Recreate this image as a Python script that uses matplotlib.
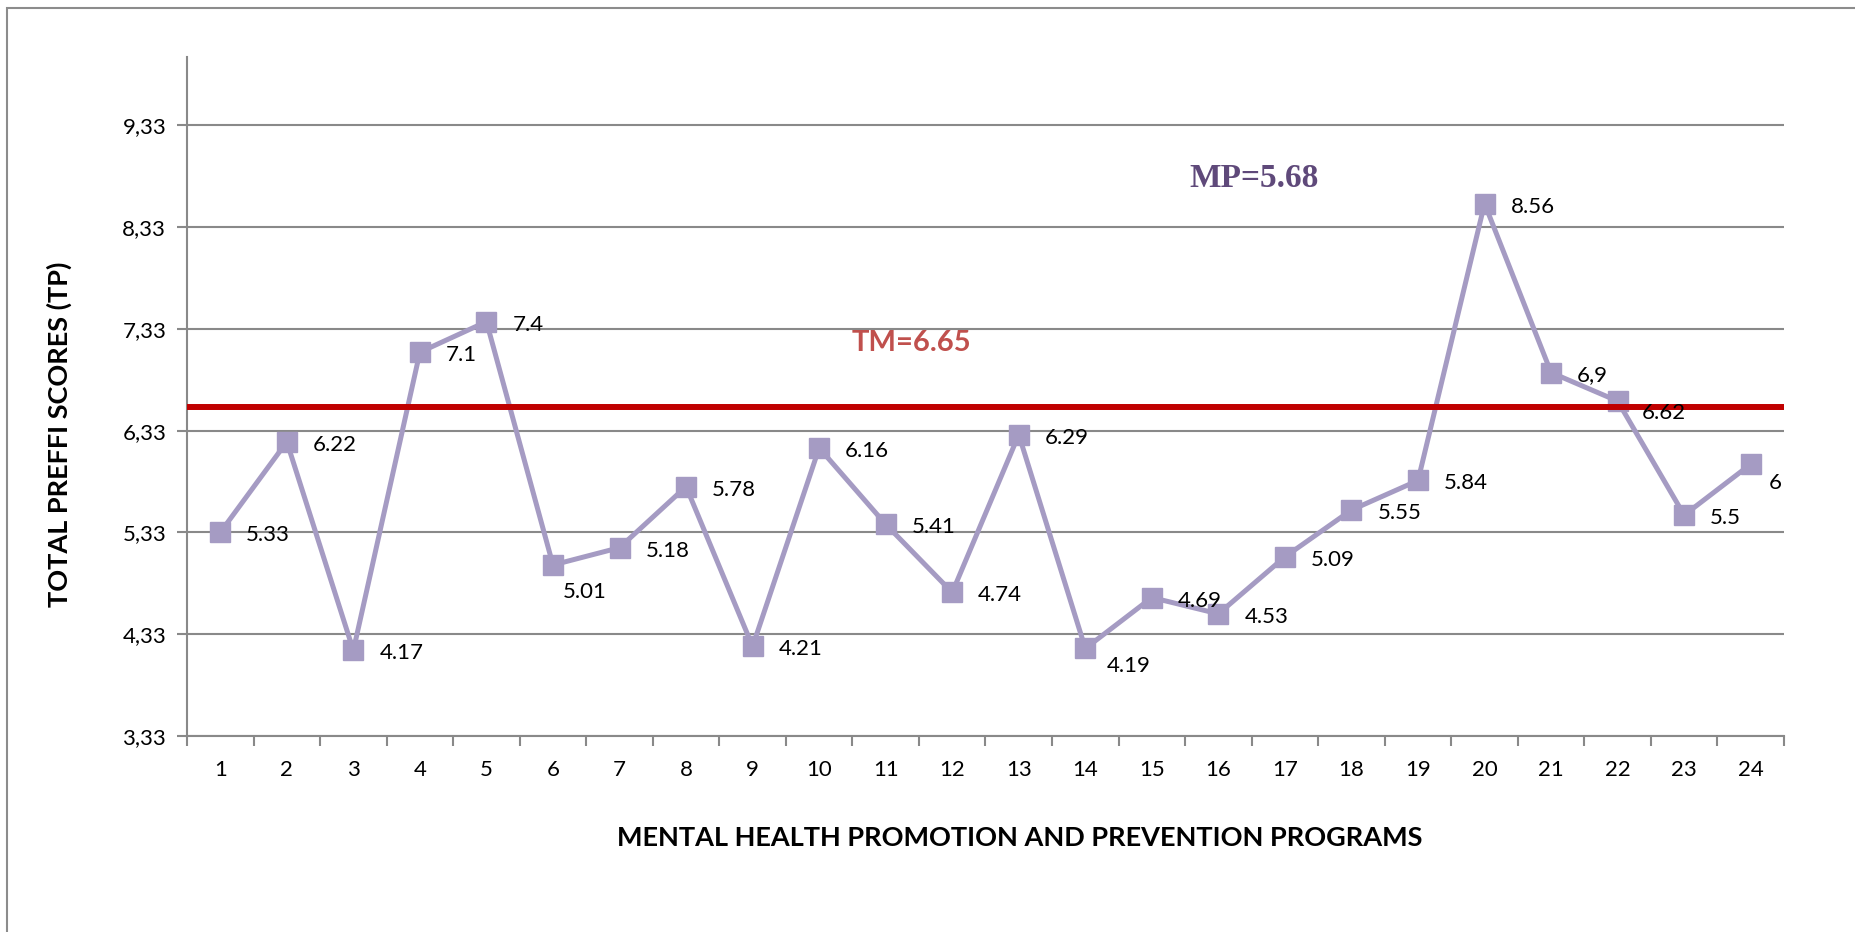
import numpy as np
import matplotlib
matplotlib.use('Agg')
import matplotlib.pyplot as plt
from matplotlib.patches import Rectangle

plt.rcParams['font.family'] = ['Lato', 'DejaVu Sans']

# === Données ===
programmes = list(range(1, 25))
scores = [5.33, 6.22, 4.17, 7.1, 7.4, 5.01, 5.18, 5.78, 4.21, 6.16, 5.41, 4.74,
          6.29, 4.19, 4.69, 4.53, 5.09, 5.55, 5.84, 8.56, 6.9, 6.62, 5.5, 6]
etiquettes = ["5.33", "6.22", "4.17", "7.1", "7.4", "5.01", "5.18", "5.78", "4.21", "6.16",
              "5.41", "4.74", "6.29", "4.19", "4.69", "4.53", "5.09", "5.55", "5.84", "8.56",
              "6,9", "6.62", "5.5", "6"]
y_ticks = [3.33, 4.33, 5.33, 6.33, 7.33, 8.33, 9.33]
y_tick_labels = ["3,33", "4,33", "5,33", "6,33", "7,33", "8,33", "9,33"]
tm_ligne = 6.56   # position of the red line as drawn
tm_texte = "TM=6.65"
mp_texte = "MP=5.68"

# décalages des étiquettes (pixels)
decal = [(26, -3)] * 24
decal[5] = (10, -27)
decal[13] = (21, -18)
decal[21] = (24, -12)
decal[23] = (18, -19)

violet = '#a59bc3'
gris = '#898989'

fig = plt.figure(figsize=(18.56, 9.32), dpi=100)
ax = fig.add_axes([187/1856, 196/932, (1784-187)/1856, (875-196)/932])

# cadre extérieur
fig.patches.append(Rectangle((7/1856, -0.05), 1.2, 1 - 8/932 + 0.05,
                             transform=fig.transFigure, fill=False,
                             edgecolor='#8c8c8c', linewidth=1.5))

ax.plot(programmes, scores, color=violet, linewidth=3.6, marker='s',
        markersize=14, markerfacecolor=violet, markeredgecolor=violet, zorder=3)
ax.axhline(tm_ligne, color='#c00000', linewidth=4.3, zorder=4)

for x, y, lab, (dx, dy) in zip(programmes, scores, etiquettes, decal):
    ax.annotate(lab, (x, y), xytext=(dx, dy), textcoords='offset pixels',
                ha='left', va='center', fontsize=16, color='black', zorder=5)

ax.text(11.39, 7.19, tm_texte, ha='center', va='center', fontsize=21,
        fontweight='bold', color='#c0504d')
ax.text(16.53, 8.81, mp_texte, ha='center', va='center', fontsize=24,
        fontweight='bold', color='#5f497a', family=['Liberation Serif', 'DejaVu Serif'])

ax.set_xlim(0.5, 24.5)
ax.set_ylim(3.33, 10.0)
ax.set_yticks(y_ticks)
ax.set_yticklabels(y_tick_labels, fontsize=16)
ax.set_xticks(programmes)
ax.set_xticklabels([str(p) for p in programmes], fontsize=16)
ax.set_xticks(np.arange(0.5, 25, 1), minor=True)
ax.tick_params(axis='x', which='major', length=0, pad=17)
ax.tick_params(axis='x', which='minor', length=7, width=1.5, color=gris, direction='out')
ax.tick_params(axis='y', length=7, width=1.5, color=gris, direction='out', pad=8)

ax.grid(axis='y', color=gris, linewidth=1.5)
ax.set_axisbelow(True)
for s in ['top', 'right']:
    ax.spines[s].set_visible(False)
for s in ['left', 'bottom']:
    ax.spines[s].set_color(gris)
    ax.spines[s].set_linewidth(1.5)

fig.text(1020/1856, 1 - 838/932, "MENTAL HEALTH PROMOTION AND PREVENTION PROGRAMS",
         ha='center', va='center', fontsize=19.5, fontweight='bold')
fig.text(59/1856, 1 - 434/932, "TOTAL PREFFI SCORES (TP)", rotation=90,
         ha='center', va='center', fontsize=19.5, fontweight='bold')

fig.savefig('out.png', dpi=100)
